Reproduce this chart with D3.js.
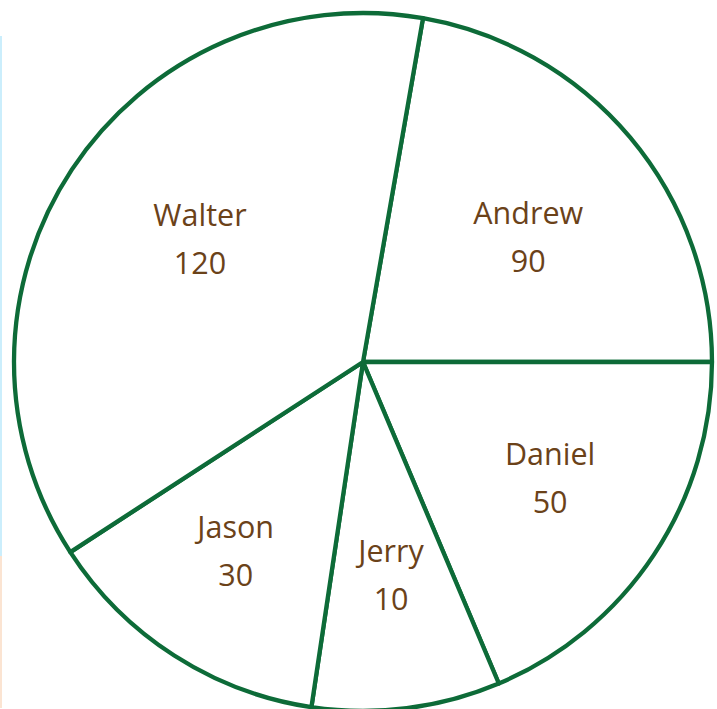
<!DOCTYPE html>
<html>
<head>
<meta charset="utf-8">
<script src="https://cdn.jsdelivr.net/npm/d3@7"></script>
<style>
  body { margin: 0; background: #fff; }
  svg { display: block; }
</style>
</head>
<body>
<div id="chart"></div>
<script>
// data
var names  = ["Andrew", "Daniel", "Jerry", "Jason", "Walter"];
var values = [90, 50, 10, 30, 120];
// slice sizes as drawn in the picture (degrees), they are not proportional to values
var sliceDeg = [80.1, 67.1, 31.4, 48.5, 132.9];
var startDeg = 9.9;

var width = 717, height = 709;
var cx = 363, cy = 362, r = 349;

// label placement, per slice (radius from centre, angle nudge in degrees)
var labelRadius = [207, 220, 215, 228, 204];
var labelNudge  = [3, -1.8, -0.3, 1.2, 3.5];

var line_color = "#0d6b38";
var text_color = "#6b4219";

var svg = d3.select("#chart").append("svg")
	.attr("width", width)
	.attr("height", height);

// thin coloured strips along the left edge
svg.append("rect").attr("x", 0).attr("y", 36).attr("width", 2).attr("height", 520).attr("fill", "#cbeefc");
svg.append("rect").attr("x", 0).attr("y", 556).attr("width", 2).attr("height", 152).attr("fill", "#fbe4d2");

var rows = names.map(function(n, i) { return {name: n, value: values[i], w: sliceDeg[i], i: i}; });

var pie = d3.pie()
	.sort(null)
	.value(function(d) { return d.w; })
	.startAngle(startDeg * Math.PI / 180)
	.endAngle((startDeg + 360) * Math.PI / 180);

var arc = d3.arc().innerRadius(0).outerRadius(r);

function labelPos(d) {
	var i = d.data.i;
	var a = (d.startAngle + d.endAngle) / 2 + labelNudge[i] * Math.PI / 180;
	var lr = labelRadius[i];
	return [Math.sin(a) * lr, -Math.cos(a) * lr];
}

var g = svg.append("g").attr("transform", "translate(" + cx + "," + cy + ")");

g.selectAll("path")
	.data(pie(rows))
	.enter().append("path")
	.attr("d", arc)
	.attr("fill", "#fff")
	.attr("stroke", line_color)
	.attr("stroke-width", 4.3)
	.attr("stroke-linejoin", "round");

var label = g.selectAll("g.label")
	.data(pie(rows))
	.enter().append("g")
	.attr("class", "label")
	.attr("transform", function(d) { return "translate(" + labelPos(d) + ")"; });

label.append("text")
	.attr("text-anchor", "middle")
	.attr("y", -13)
	.style("font-family", "'Open Sans', sans-serif")
	.style("font-size", "30.5px")
	.style("fill", text_color)
	.text(function(d) { return d.data.name; });

label.append("text")
	.attr("text-anchor", "middle")
	.attr("y", 35)
	.style("font-family", "'Open Sans', sans-serif")
	.style("font-size", "30.5px")
	.style("fill", text_color)
	.text(function(d) { return d.data.value; });
</script>
</body>
</html>
